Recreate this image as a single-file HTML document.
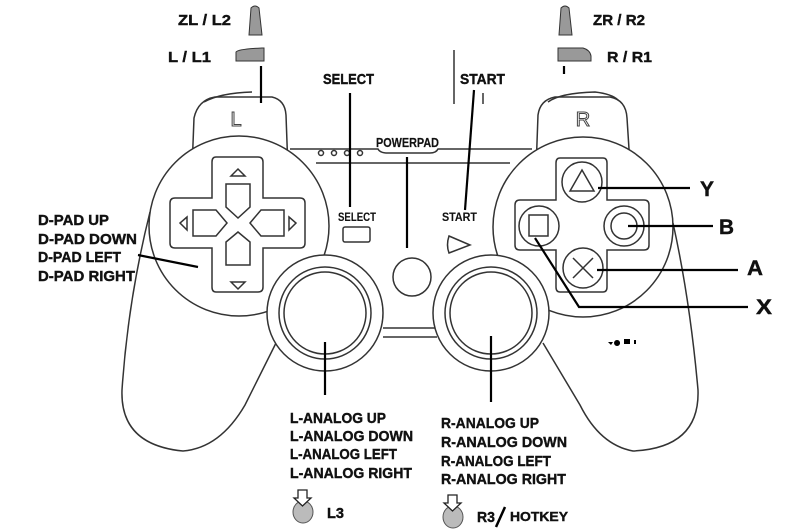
<!DOCTYPE html>
<html><head><meta charset="utf-8"><style>
html,body{margin:0;padding:0;background:#fff;width:800px;height:532px;overflow:hidden}
svg{display:block}
.t{font-family:"Liberation Sans Narrow","Liberation Sans",sans-serif;font-weight:bold;fill:#111;stroke:#111;stroke-width:0.4}
</style></head><body>
<svg width="800" height="532" viewBox="0 0 800 532" xmlns="http://www.w3.org/2000/svg">
<g fill="none" stroke="#333" stroke-width="1.5">
<path d="M191,195 L194,118 Q198,100 215,97 L272,97 Q285,100 286,115 L288,170"/>
<path d="M204,102 Q220,93 252,92"/>
<path d="M536,170 L538,115 Q540,100 555,97 L610,97 Q626,100 627,118 L631,180"/>
<path d="M548,102 Q560,93 595,92 Q612,94 618,100"/>
<path d="M290,149 L378,149 Q380,153 388,153 L430,153 Q436,153 438,149 L532,149"/>
<path d="M316,163 L510,163"/>
<path d="M150,212 Q128,300 122,390 Q120,445 183,451 Q220,448 245,405 L276,343"/>
<path d="M673,223 Q690,300 698,390 Q700,448 633,451 Q600,445 580,405 L543,343"/>
<path d="M383,328 L437,328 M383,337 L437,337"/>
<circle cx="239" cy="226" r="90" fill="#fff"/>
<circle cx="583" cy="227" r="90" fill="#fff"/>
<circle cx="325" cy="313" r="58" fill="#fff"/>
<circle cx="325" cy="313" r="46"/>
<circle cx="325" cy="313" r="41"/>
<circle cx="491" cy="313" r="58" fill="#fff"/>
<circle cx="491" cy="313" r="46"/>
<circle cx="491" cy="313" r="41"/>
<circle cx="412" cy="277" r="19"/>
<path d="M216,157 L258,157 Q263,157 263,162 L263,198 L300,198 Q305,198 305,203 L305,243 Q305,248 300,248 L263,248 L263,287 Q263,292 258,292 L216,292 Q212,292 212,287 L212,248 L175,248 Q170,248 170,243 L170,203 Q170,198 175,198 L212,198 L212,162 Q212,157 216,157 Z"/>
<path d="M226,184 L226,207 L238,218 L250,207 L250,184 Z"/>
<path d="M226,265 L226,242 L238,232 L250,242 L250,265 Z"/>
<path d="M193,210 L216,210 L227,223 L216,236 L193,236 Z"/>
<path d="M284,210 L261,210 L250,223 L261,236 L284,236 Z"/>
<path d="M231,176 L238,169 L245,176 Z M231,282 L238,289 L245,282 Z M187,217 L180,223 L187,230 Z M289,217 L296,223 L289,230 Z"/>
<path d="M560,158 L603,158 Q607,158 607,163 L607,200 L644,200 Q649,200 649,205 L649,245 Q649,250 644,250 L607,250 L607,287 Q607,292 603,292 L560,292 Q556,292 556,287 L556,250 L520,250 Q515,250 515,245 L515,205 Q515,200 520,200 L556,200 L556,163 Q556,158 560,158 Z"/>
<circle cx="582" cy="182" r="20"/><path d="M570,191 L582,170 L594,191 Z"/>
<circle cx="624" cy="226" r="20"/><circle cx="624" cy="226" r="13"/>
<circle cx="583" cy="268" r="20"/><path d="M573,258 L593,278 M593,258 L573,278"/>
<circle cx="539" cy="226" r="20"/><rect x="529" y="215" width="19" height="21"/>
<rect x="343" y="227" width="27" height="15" rx="2"/>
<path d="M449,236 L470,245 L449,253 Q446,245 449,236 Z"/>
<circle cx="321" cy="153" r="2.5"/><circle cx="334" cy="153" r="2.5"/><circle cx="347" cy="153" r="2.5"/><circle cx="360" cy="153" r="2.5"/>
</g>
<text x="236" y="126" font-family="Liberation Sans,sans-serif" font-size="20" fill="#fff" stroke="#444" stroke-width="1" text-anchor="middle">L</text>
<text x="583" y="126" font-family="Liberation Sans,sans-serif" font-size="20" fill="#fff" stroke="#444" stroke-width="1" text-anchor="middle">R</text>
<path d="M249,35 L251,8 Q255,4 259,8 L262,35 Z" fill="#999" stroke="#333"/>
<path d="M236,52 Q238,49 262,48 L264,48 L264,61 L236,61 Z" fill="#999" stroke="#333"/>
<path d="M559,35 L561,8 Q565,4 569,8 L572,35 Z" fill="#999" stroke="#333"/>
<path d="M558,48 L583,48 Q590,50 591,56 L591,61 L558,61 Z" fill="#999" stroke="#333"/>
<g stroke="#000" stroke-width="2.2" fill="none">
<path d="M261,66 L261,103"/><path d="M564,66 L564,74"/>
<path d="M454,50 L454,104" stroke-width="1.2"/><path d="M483,93 L483,104" stroke-width="1.2"/>
<path d="M350,93 L350,207"/>
<path d="M474,90 L465,210"/>
<path d="M407,157 L407,248"/>
<path d="M138,255 L198,267"/>
<path d="M598,188 L690,188"/><path d="M628,226 L713,226"/><path d="M597,270 L738,270"/>
<path d="M535,238 L579,307 L748,307"/>
<path d="M325,342 L325,395"/><path d="M491,336 L491,402"/>
</g>
<path d="M608,342 l5,0 -2,3z M617,340 a3,3 0 1,0 0.1,0 M624,339 h6 v5 h-6z M634,340 h2 v4 h-2z" fill="#000"/>
<g class="t" font-size="15" lengthAdjust="spacingAndGlyphs">
<text x="178" y="25" textLength="53" lengthAdjust="spacingAndGlyphs">ZL / L2</text>
<text x="168" y="62" textLength="43" lengthAdjust="spacingAndGlyphs">L / L1</text>
<text x="593" y="25" textLength="52" lengthAdjust="spacingAndGlyphs">ZR / R2</text>
<text x="607" y="62" textLength="45" lengthAdjust="spacingAndGlyphs">R / R1</text>
<text x="323" y="84" textLength="51" lengthAdjust="spacingAndGlyphs">SELECT</text>
<text x="460" y="84" textLength="45" lengthAdjust="spacingAndGlyphs">START</text>
<text x="376" y="147" font-size="13" textLength="63" lengthAdjust="spacingAndGlyphs" stroke-width="0.2">POWERPAD</text>
<text x="338" y="221" font-size="12" textLength="38" lengthAdjust="spacingAndGlyphs" stroke-width="0.1">SELECT</text>
<text x="442" y="221" font-size="12" textLength="35" lengthAdjust="spacingAndGlyphs" stroke-width="0.1">START</text>
<text x="38" y="225" textLength="71" lengthAdjust="spacingAndGlyphs">D-PAD UP</text>
<text x="38" y="244" textLength="99" lengthAdjust="spacingAndGlyphs">D-PAD DOWN</text>
<text x="38" y="262" textLength="83" lengthAdjust="spacingAndGlyphs">D-PAD LEFT</text>
<text x="38" y="281" textLength="97" lengthAdjust="spacingAndGlyphs">D-PAD RIGHT</text>
<text x="290" y="423" textLength="96" lengthAdjust="spacingAndGlyphs">L-ANALOG UP</text>
<text x="290" y="441" textLength="123" lengthAdjust="spacingAndGlyphs">L-ANALOG DOWN</text>
<text x="290" y="459" textLength="107" lengthAdjust="spacingAndGlyphs">L-ANALOG LEFT</text>
<text x="290" y="478" textLength="122" lengthAdjust="spacingAndGlyphs">L-ANALOG RIGHT</text>
<text x="441" y="428" textLength="98" lengthAdjust="spacingAndGlyphs">R-ANALOG UP</text>
<text x="441" y="447" textLength="126" lengthAdjust="spacingAndGlyphs">R-ANALOG DOWN</text>
<text x="441" y="466" textLength="110" lengthAdjust="spacingAndGlyphs">R-ANALOG LEFT</text>
<text x="441" y="484" textLength="125" lengthAdjust="spacingAndGlyphs">R-ANALOG RIGHT</text>
<text x="327" y="518" textLength="17" lengthAdjust="spacingAndGlyphs">L3</text>
<text x="477" y="522" textLength="18" lengthAdjust="spacingAndGlyphs">R3</text>
<text x="510" y="521" font-size="13" textLength="58" lengthAdjust="spacingAndGlyphs">HOTKEY</text>
<text x="700" y="196" font-size="21" textLength="14" lengthAdjust="spacingAndGlyphs">Y</text>
<text x="719" y="234" font-size="21" textLength="15" lengthAdjust="spacingAndGlyphs">B</text>
<text x="747" y="275" font-size="21" textLength="16" lengthAdjust="spacingAndGlyphs">A</text>
<text x="756" y="314" font-size="21" textLength="16" lengthAdjust="spacingAndGlyphs">X</text>
</g>
<path d="M496,527 L505,507" stroke="#000" stroke-width="2.5"/>
<ellipse cx="303" cy="512" rx="10" ry="11" fill="#bbb" stroke="#555"/>
<path d="M298,490 L307,490 L307,498 L311,498 L302.5,506 L294,498 L298,498 Z" fill="#fff" stroke="#222" stroke-width="1.3"/>
<ellipse cx="453" cy="517" rx="10" ry="11" fill="#bbb" stroke="#555"/>
<path d="M448,495 L457,495 L457,503 L461,503 L452.5,511 L444,503 L448,503 Z" fill="#fff" stroke="#222" stroke-width="1.3"/>
</svg>
</body></html>
